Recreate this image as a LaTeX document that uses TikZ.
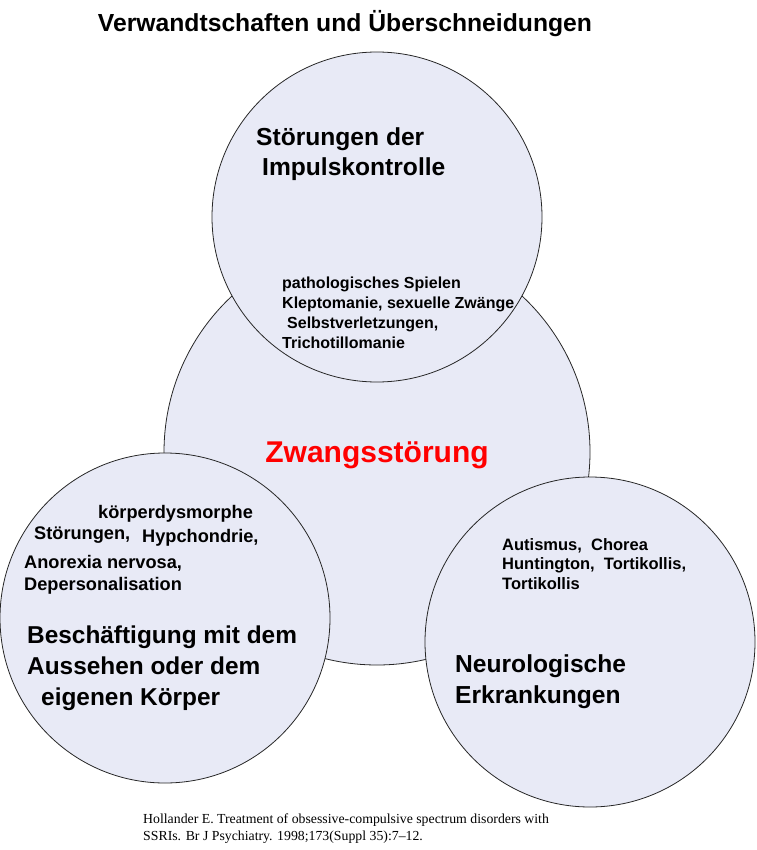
\documentclass[tikz,border=0pt]{standalone}
\usepackage{fontspec}
\setmainfont{Liberation Sans}
\newfontfamily\citefont{Liberation Serif}
\definecolor{lavendel}{RGB}{232,234,246}
\definecolor{zwangrot}{RGB}{255,0,0}
\tikzset{>=latex}
\tikzset{
  kreis/.style={draw=black!85,fill=lavendel,line width=0.8pt},
  gross/.style={font=\bfseries\fontsize{24.6}{30.5}\selectfont,align=left,inner sep=0pt,anchor=base west},
  klein/.style={font=\bfseries\fontsize{#1}{20}\selectfont,align=left,inner sep=0pt,anchor=base west},
}

\begin{document}
\begin{tikzpicture}[x=1pt,y=-1pt]
  \useasboundingbox (0,0) rectangle (756,850);
  % Kreise
  \draw[kreis] (377,452) circle (213pt) coordinate (zwang);
  \draw[kreis] (377,217) circle (165pt) coordinate (impuls);
  \draw[kreis] (165,618) circle (165pt) coordinate (aussehen);
  \draw[kreis] (590,642) circle (165pt) coordinate (neuro);
  \node[font=\bfseries\fontsize{24.7}{30}\selectfont,inner sep=0pt,anchor=base] (titel) at (345,32) {Verwandtschaften und Überschneidungen};
  \node[font=\bfseries\fontsize{30}{36}\selectfont,zwangrot,inner sep=0pt,anchor=base] (zwang text) at (377,462) {Zwangsstörung};
  % oben (base = letzte Zeile)
  \node[gross] (impuls text) at (256,176) {Störungen der\\\hspace*{6pt}Impulskontrolle};
  \node[klein=16] (impuls liste) at (282,348) {pathologisches Spielen\\Kleptomanie, sexuelle Zwänge\\\hspace*{5pt}Selbstverletzungen,\\Trichotillomanie};
  % links
  \node[klein=18.2] (aussehen a) at (98,518) {körperdysmorphe};
  \node[klein=18.2] (aussehen b) at (34,539) {Störungen,};
  \node[klein=18.2] (aussehen c) at (142,542) {Hypchondrie,};
  \node[klein=18.2,font=\bfseries\fontsize{18.2}{22}\selectfont] (aussehen d) at (24,590) {Anorexia nervosa,\\Depersonalisation};
  \node[gross,font=\bfseries\fontsize{24.4}{31}\selectfont] (aussehen text) at (27,705) {Beschäftigung mit dem\\Aussehen oder dem\\\hspace*{14pt}eigenen Körper};
  % rechts
  \node[klein=16.5,font=\bfseries\fontsize{16.5}{19.5}\selectfont] (neuro liste) at (502,589) {Autismus,\ \ Chorea\\Huntington,\ \ Tortikollis,\\Tortikollis};
  \node[gross] (neuro text) at (455,703) {Neurologische\\Erkrankungen};
  % Quelle
  \node[font=\citefont\fontsize{13.8}{16.5}\selectfont,align=left,inner sep=0pt,anchor=base west] (quelle) at (143,840) {Hollander E. Treatment of obsessive-compulsive spectrum disorders with\\SSRIs. Br J Psychiatry. 1998;173(Suppl 35):7–12.};
\end{tikzpicture}
\end{document}
